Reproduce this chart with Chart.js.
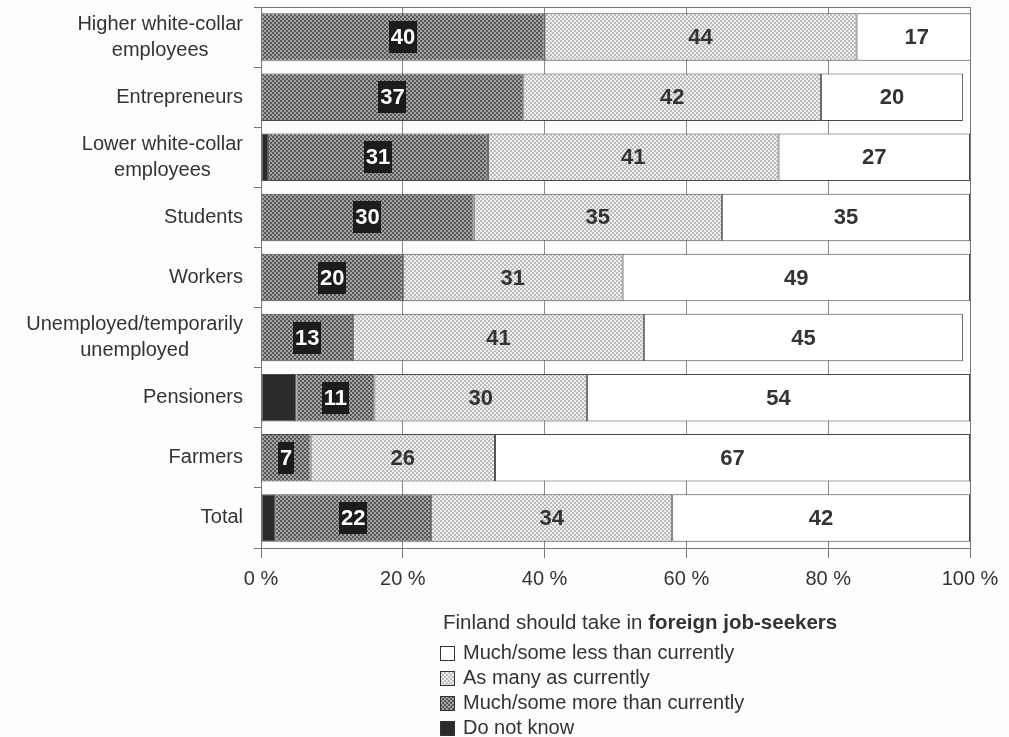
<!DOCTYPE html>
<html>
<head>
<meta charset="utf-8">
<script src="https://cdn.jsdelivr.net/npm/chart.js@4.4.0/dist/chart.umd.min.js"></script>
<style>
  html, body { margin: 0; padding: 0; background: #fdfdfd; }
  canvas { display: block; }
</style>
</head>
<body>
<canvas id="grafico" width="1009" height="737"></canvas>
<script>
// Groups, top to bottom
const categorias = [
  ['Higher white-collar', 'employees'],
  'Entrepreneurs',
  ['Lower white-collar', 'employees'],
  'Students',
  'Workers',
  ['Unemployed/temporarily', 'unemployed'],
  'Pensioners',
  'Farmers',
  'Total'
];

// Shares in percent, stacked left to right
const noSabe = [0, 0, 1, 0, 0, 0, 5, 0, 2];
const masQueAhora = [40, 37, 31, 30, 20, 13, 11, 7, 22];
const igualQueAhora = [44, 42, 41, 35, 31, 41, 30, 26, 34];
const menosQueAhora = [17, 20, 27, 35, 49, 45, 54, 67, 42];

const ticksX = [0, 20, 40, 60, 80, 100];

const FUENTE = '"Liberation Sans", Arial, sans-serif';
const TEXTO = '#333';

// small repeating tiles to imitate the printed screens
function patron(fondo, punto) {
  const c = document.createElement('canvas');
  c.width = 4; c.height = 4;
  const g = c.getContext('2d');
  g.fillStyle = fondo;
  g.fillRect(0, 0, 4, 4);
  g.fillStyle = punto;
  g.fillRect(0, 0, 2, 2);
  g.fillRect(2, 2, 2, 2);
  return g.createPattern(c, 'repeat');
}

const tramaOscura = patron('#a4a4a4', '#585858');
const tramaClara = patron('#eeeeee', '#bdbdbd');

const series = [
  { label: 'Do not know', data: noSabe, backgroundColor: '#2b2b2b', valor: false },
  { label: 'Much/some more than currently', data: masQueAhora, backgroundColor: tramaOscura, valor: 'caja' },
  { label: 'As many as currently', data: igualQueAhora, backgroundColor: tramaClara, valor: 'texto' },
  { label: 'Much/some less than currently', data: menosQueAhora, backgroundColor: '#ffffff', valor: 'texto' }
];

// category names: block right-aligned, lines centred on each other
const etiquetasCategorias = {
  id: 'etiquetasCategorias',
  afterDraw(chart) {
    const { ctx, scales: { y } } = chart;
    const derecha = chart.chartArea.left - 18;
    ctx.save();
    ctx.font = '20px ' + FUENTE;
    ctx.fillStyle = TEXTO;
    ctx.textAlign = 'center';
    ctx.textBaseline = 'middle';
    categorias.forEach((cat, i) => {
      const lineas = Array.isArray(cat) ? cat : [cat];
      const ancho = Math.max(...lineas.map(l => ctx.measureText(l).width));
      const cx = derecha - ancho / 2;
      const cy = y.getPixelForValue(i);
      lineas.forEach((l, j) => {
        ctx.fillText(l, cx, cy + (j - (lineas.length - 1) / 2) * 26);
      });
    });
    ctx.restore();
  }
};

// numbers inside the bars
const valoresBarras = {
  id: 'valoresBarras',
  afterDatasetsDraw(chart) {
    const { ctx } = chart;
    ctx.save();
    ctx.font = 'bold 22px ' + FUENTE;
    ctx.textAlign = 'center';
    ctx.textBaseline = 'middle';
    chart.data.datasets.forEach((ds, d) => {
      if (!ds.valor) return;
      const meta = chart.getDatasetMeta(d);
      meta.data.forEach((bar, i) => {
        const v = ds.data[i];
        if (!v) return;
        const x = (bar.x + bar.base) / 2;
        const y = bar.y;
        const txt = String(v);
        if (ds.valor === 'caja') {
          const w = ctx.measureText(txt).width + 4;
          ctx.fillStyle = '#1c1c1c';
          ctx.fillRect(Math.round(x - w / 2), Math.round(y - 16), Math.round(w), 32);
          ctx.fillStyle = '#ffffff';
        } else {
          ctx.fillStyle = TEXTO;
        }
        ctx.fillText(txt, x, y + 1);
      });
    });
    ctx.restore();
  }
};

// frame around the plot area
const marco = {
  id: 'marco',
  afterDraw(chart) {
    const { ctx, chartArea: a } = chart;
    ctx.save();
    ctx.strokeStyle = '#777';
    ctx.lineWidth = 1;
    ctx.strokeRect(a.left + 0.5, a.top + 0.5, a.right - a.left, a.bottom - a.top);
    ctx.restore();
  }
};

// legend below the axis, with a title line
const leyenda = {
  id: 'leyenda',
  afterDraw(chart) {
    const { ctx, chartArea: a } = chart;
    const x0 = a.left + 179;
    ctx.save();
    ctx.textBaseline = 'middle';
    ctx.textAlign = 'left';
    ctx.fillStyle = TEXTO;
    const parte1 = 'Finland should take in ';
    ctx.font = '20.5px ' + FUENTE;
    ctx.fillText(parte1, x0 + 3, 623);
    const w1 = ctx.measureText(parte1).width;
    ctx.font = 'bold 20.5px ' + FUENTE;
    ctx.fillText('foreign job-seekers', x0 + 3 + w1, 623);

    ctx.font = '20px ' + FUENTE;
    const items = chart.data.datasets.slice().reverse();
    items.forEach((ds, k) => {
      const cy = 653 + k * 25;
      ctx.fillStyle = ds.backgroundColor;
      ctx.fillRect(x0, cy - 7, 15, 15);
      ctx.strokeStyle = '#333';
      ctx.lineWidth = 1;
      ctx.strokeRect(x0 + 0.5, cy - 6.5, 14, 14);
      ctx.fillStyle = TEXTO;
      ctx.fillText(ds.label, x0 + 23, cy);
    });
    ctx.restore();
  }
};

new Chart(document.getElementById('grafico'), {
  type: 'bar',
  data: {
    labels: categorias,
    datasets: series.map(s => ({
      label: s.label,
      data: s.data,
      backgroundColor: s.backgroundColor,
      borderColor: '#4a4a4a',
      borderWidth: 1,
      borderSkipped: false,
      categoryPercentage: 1,
      barPercentage: 0.79,
      valor: s.valor
    }))
  },
  options: {
    indexAxis: 'y',
    responsive: false,
    animation: false,
    layout: { padding: { left: 254, right: 39, top: 7, bottom: 137 } },
    plugins: {
      legend: { display: false },
      tooltip: { enabled: false }
    },
    scales: {
      x: {
        stacked: true,
        min: 0,
        max: 100,
        afterBuildTicks: scale => { scale.ticks = ticksX.map(v => ({ value: v })); },
        ticks: {
          callback: v => v + ' %',
          color: TEXTO,
          font: { size: 20, family: FUENTE },
          padding: 9,
          maxRotation: 0
        },
        grid: { color: '#8a8a8a', lineWidth: 1, tickLength: 10, tickColor: '#777' },
        border: { color: '#666' }
      },
      y: {
        stacked: true,
        ticks: { display: false },
        grid: { offset: true, drawOnChartArea: false, tickLength: 7, color: '#777' },
        border: { color: '#666' }
      }
    }
  },
  plugins: [etiquetasCategorias, valoresBarras, marco, leyenda]
});
</script>
</body>
</html>
